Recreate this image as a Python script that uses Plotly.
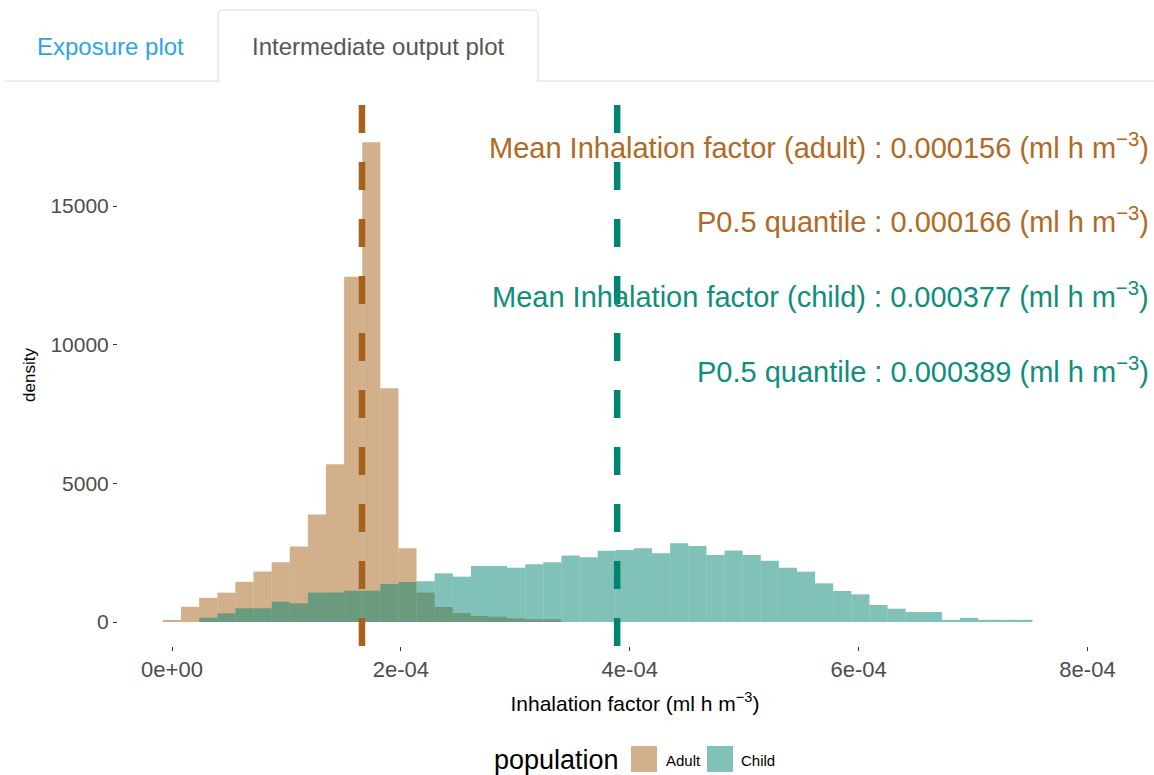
import plotly.graph_objects as go

# ---------------- data ----------------
bin_width = 1.583e-5          # histogram bin width (bins centred on multiples of the width)
adult_density = [75, 550, 870, 1057, 1450, 1820, 2150, 2720, 3880, 5690, 12450, 17300,
                 8430, 2657, 1060, 540, 320, 216, 190, 132, 96, 96]
child_density = [0, 0, 155, 313, 494, 494, 733, 673, 1060, 1065, 1130, 1130, 1370, 1440,
                 1470, 1755, 1634, 2020, 2020, 1960, 2080, 2152, 2400, 2333, 2571, 2596,
                 2657, 2477, 2838, 2740, 2416, 2580, 2416, 2211, 1960, 1814, 1395, 1118,
                 998, 613, 481, 360, 360, 80, 150, 80, 80, 80]
populations = ["Adult", "Child"]
mean_values = [0.000156, 0.000377]
median_values = [0.000166, 0.000389]
x_tick_vals = [0, 2e-4, 4e-4, 6e-4, 8e-4]
x_tick_text = ["0e+00", "2e-04", "4e-04", "6e-04", "8e-04"]
y_tick_vals = [0, 5000, 10000, 15000]
y_tick_text = ["0", "5000", "10000", "15000"]
tab_labels = ["Exposure plot", "Intermediate output plot"]

# ---------------- style ----------------
W, H = 1154, 775
ML, MR, MT, MB = 118, 2, 104, 129
PW, PH = W - ML - MR, H - MT - MB
col_line = ["#A6611A", "#018571"]
col_text = ["#B06A25", "#0E8E7B"]
col_fill = ["rgba(166,97,26,0.5)", "rgba(1,133,113,0.5)"]
FONT = "Liberation Sans, Arial, sans-serif"

# axis range so that 0 -> px 172 and 8e-4 -> px 1087.5
px_per_unit = (1087.5 - 172) / 8e-4
x_lo = (ML - 172) / px_per_unit
x_hi = (ML + PW - 172) / px_per_unit
py_per_unit = (622 - 206) / 15000
y_lo = -((MT + PH) - 622) / py_per_unit
y_hi = (622 - MT) / py_per_unit


def px(xp):
    return (xp - ML) / PW


def py(yp):
    return (MT + PH - yp) / PH


fig = go.Figure()
for name, dens, fc in zip(populations, [adult_density, child_density], col_fill):
    centers = [i * bin_width for i in range(len(dens))]
    fig.add_trace(go.Bar(x=centers, y=dens, width=bin_width, name=name,
                         marker=dict(color=fc, line=dict(width=0)),
                         showlegend=False))

shapes = []
for v, c in zip(median_values, col_line):
    shapes.append(dict(type="line", xref="x", yref="paper", x0=v, x1=v, y0=0, y1=1,
                       line=dict(color=c, width=6.5, dash="28px,29px"), layer="above"))

# tabs
shapes.append(dict(type="line", xref="paper", yref="paper", x0=px(5), x1=px(1154),
                   y0=py(81), y1=py(81), line=dict(color="#dddddd", width=1)))
tab_path = (f"M {px(218)},{py(81.5)} L {px(218)},{py(14)} Q {px(218)},{py(10)} {px(222)},{py(10)} "
            f"L {px(534)},{py(10)} Q {px(538)},{py(10)} {px(538)},{py(14)} L {px(538)},{py(81.5)} Z")
shapes.append(dict(type="path", xref="paper", yref="paper", path=tab_path,
                   fillcolor="white", line=dict(color="#dddddd", width=1)))
shapes.append(dict(type="line", xref="paper", yref="paper", x0=px(219), x1=px(537),
                   y0=py(81), y1=py(81), line=dict(color="white", width=2)))

# manual legend keys
for (x0, x1), fc in zip([(631, 657), (707, 733)], col_fill):
    shapes.append(dict(type="rect", xref="paper", yref="paper", x0=px(x0), x1=px(x1),
                       y0=py(772), y1=py(746), fillcolor=fc, line=dict(width=0)))

annotations = []
labels = [
    f"Mean Inhalation factor (adult) : {mean_values[0]:.6f} (ml h m<sup>−3</sup>)",
    f"P0.5 quantile : {median_values[0]:.6f} (ml h m<sup>−3</sup>)",
    f"Mean Inhalation factor (child) : {mean_values[1]:.6f} (ml h m<sup>−3</sup>)",
    f"P0.5 quantile : {median_values[1]:.6f} (ml h m<sup>−3</sup>)",
]
for txt, yy, c in zip(labels, [146, 220, 295, 370], [col_text[0], col_text[0], col_text[1], col_text[1]]):
    annotations.append(dict(text=txt, xref="paper", yref="paper", x=px(1151), y=py(yy),
                            xanchor="right", yanchor="middle", showarrow=False,
                            font=dict(family=FONT, size=29, color=c)))

annotations.append(dict(text=tab_labels[0], xref="paper", yref="paper", x=px(110), y=py(47),
                        xanchor="center", yanchor="middle", showarrow=False,
                        font=dict(family=FONT, size=24, color="#2FA4E7")))
annotations.append(dict(text=tab_labels[1], xref="paper", yref="paper", x=px(378), y=py(47),
                        xanchor="center", yanchor="middle", showarrow=False,
                        font=dict(family=FONT, size=24, color="#555555")))

# legend text
annotations.append(dict(text="population", xref="paper", yref="paper", x=px(621), y=py(760),
                        xanchor="right", yanchor="middle", showarrow=False,
                        font=dict(family=FONT, size=27, color="#000000")))
for name, xx in zip(populations, [664, 739]):
    annotations.append(dict(text=name, xref="paper", yref="paper", x=px(xx), y=py(760),
                            xanchor="left", yanchor="middle", showarrow=False,
                            font=dict(family=FONT, size=15, color="#000000")))

fig.update_layout(
    width=W, height=H, barmode="overlay",
    margin=dict(l=ML, r=MR, t=MT, b=MB, autoexpand=False),
    paper_bgcolor="white", plot_bgcolor="white",
    font=dict(family=FONT),
    shapes=shapes, annotations=annotations, showlegend=False,
    xaxis=dict(range=[x_lo, x_hi], tickvals=x_tick_vals, ticktext=x_tick_text,
               ticks="outside", ticklen=4, tickcolor="#333333", tickwidth=1,
               showgrid=False, zeroline=False, showline=False,
               tickfont=dict(family=FONT, size=22, color="#4D4D4D"),
               title=dict(text="Inhalation factor (ml h m<sup>−3</sup>)", standoff=14,
                          font=dict(family=FONT, size=21, color="#000000"))),
    yaxis=dict(range=[y_lo, y_hi], tickvals=y_tick_vals, ticktext=y_tick_text,
               ticks="outside", ticklen=4, tickcolor="#333333", tickwidth=1,
               showgrid=False, zeroline=False, showline=False,
               tickfont=dict(family=FONT, size=21, color="#4D4D4D"),
               title=dict(text="density", standoff=10,
                          font=dict(family=FONT, size=17, color="#000000"))),
)

fig.write_html("out.html", config={"displayModeBar": False},
               post_script="document.body.style.margin='0';document.body.style.overflow='hidden';")
